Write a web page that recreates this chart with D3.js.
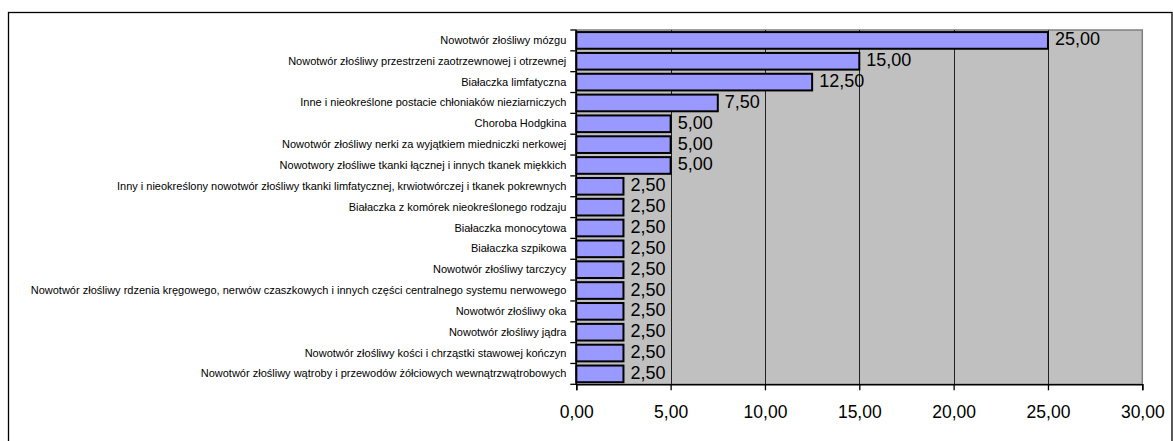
<!DOCTYPE html>
<html><head><meta charset="utf-8">
<script src="https://cdn.jsdelivr.net/npm/d3@7"></script>
<style>html,body{margin:0;padding:0;background:#fff}svg{display:block}</style>
</head><body>
<svg id="chart" width="1173" height="441"></svg>
<script>
const categories = [
  "Nowotwór złośliwy mózgu",
  "Nowotwór złośliwy przestrzeni zaotrzewnowej i otrzewnej",
  "Białaczka limfatyczna",
  "Inne i nieokreślone postacie chłoniaków nieziarniczych",
  "Choroba Hodgkina",
  "Nowotwór złośliwy nerki za wyjątkiem miedniczki nerkowej",
  "Nowotwory złośliwe tkanki łącznej i innych tkanek miękkich",
  "Inny i nieokreślony nowotwór złośliwy tkanki limfatycznej, krwiotwórczej i tkanek pokrewnych",
  "Białaczka z komórek nieokreślonego rodzaju",
  "Białaczka monocytowa",
  "Białaczka szpikowa",
  "Nowotwór złośliwy tarczycy",
  "Nowotwór złośliwy rdzenia kręgowego, nerwów czaszkowych i innych części centralnego systemu nerwowego",
  "Nowotwór złośliwy oka",
  "Nowotwór złośliwy jądra",
  "Nowotwór złośliwy kości i chrząstki stawowej kończyn",
  "Nowotwór złośliwy wątroby i przewodów żółciowych wewnątrzwątrobowych"
];
const values = [25, 15, 12.5, 7.5, 5, 5, 5, 2.5, 2.5, 2.5, 2.5, 2.5, 2.5, 2.5, 2.5, 2.5, 2.5];
const xTicks = [0, 5, 10, 15, 20, 25, 30];

const fmt = v => v.toFixed(2).replace(".", ",");
const svg = d3.select("#chart");
const font = "Liberation Sans, Arial, sans-serif";

const pL = 576.3, pR = 1142.3, pT = 30, pB = 384.3;

// outer border
svg.append("rect").attr("x", 8.5).attr("y", 12.5).attr("width", 1163.5).attr("height", 440)
  .attr("fill", "#fff").attr("stroke", "#000").attr("stroke-width", 1.3);

const x = d3.scaleLinear().domain([0, 30]).range([pL, pR]);
const y = d3.scaleBand().domain(categories).range([pT, pB]).paddingInner(0.2).paddingOuter(0.1);

// plot area
svg.append("rect").attr("x", pL).attr("y", pT).attr("width", pR - pL).attr("height", pB - pT)
  .attr("fill", "#C0C0C0").attr("stroke", "#808080").attr("stroke-width", 1.5);

// gridlines
svg.append("g").selectAll("line").data(xTicks.filter(t => t > 0 && t < 30)).join("line")
  .attr("x1", d => Math.round(x(d)) + 0.5).attr("x2", d => Math.round(x(d)) + 0.5)
  .attr("y1", pT).attr("y2", pB).attr("stroke", "#222").attr("stroke-width", 1);

// bars
svg.append("g").selectAll("rect").data(values).join("rect")
  .attr("x", x(0)).attr("y", (d, i) => y(categories[i]))
  .attr("width", d => x(d) - x(0)).attr("height", y.bandwidth())
  .attr("fill", "#9999FF").attr("stroke", "#000").attr("stroke-width", 2);

// value labels
svg.append("g").selectAll("text").data(values).join("text")
  .attr("x", d => x(d) + 7).attr("y", (d, i) => y(categories[i]) + y.bandwidth() / 2 + 5)
  .attr("font-family", font).attr("font-size", 18).attr("fill", "#000")
  .text(d => fmt(d));

// x axis
const xAxis = d3.axisBottom(x).tickValues(xTicks).tickSize(6).tickPadding(15).tickFormat(fmt);
const gx = svg.append("g").attr("transform", `translate(0,${pB})`).call(xAxis);
gx.select(".domain").attr("stroke", "#000").attr("stroke-width", 1.5);
gx.selectAll(".tick line").attr("stroke", "#000").attr("stroke-width", 1.3);
gx.selectAll(".tick text").attr("font-family", font).attr("font-size", 17.5).attr("fill", "#000");

// y axis
const yAxis = d3.axisLeft(y).tickSize(0).tickPadding(10);
const gy = svg.append("g").attr("transform", `translate(${pL},0)`).call(yAxis);
gy.select(".domain").remove();
gy.selectAll(".tick text").attr("font-family", font).attr("font-size", 11).attr("fill", "#000");
svg.append("line").attr("x1", pL).attr("x2", pL).attr("y1", pT).attr("y2", pB)
  .attr("stroke", "#000").attr("stroke-width", 1.5);
// category boundary ticks
svg.append("g").selectAll("line").data(d3.range(categories.length + 1)).join("line")
  .attr("x1", pL - 6).attr("x2", pL)
  .attr("y1", i => pT + i * (pB - pT) / categories.length)
  .attr("y2", i => pT + i * (pB - pT) / categories.length)
  .attr("stroke", "#000").attr("stroke-width", 1.3);
</script>
</body></html>
